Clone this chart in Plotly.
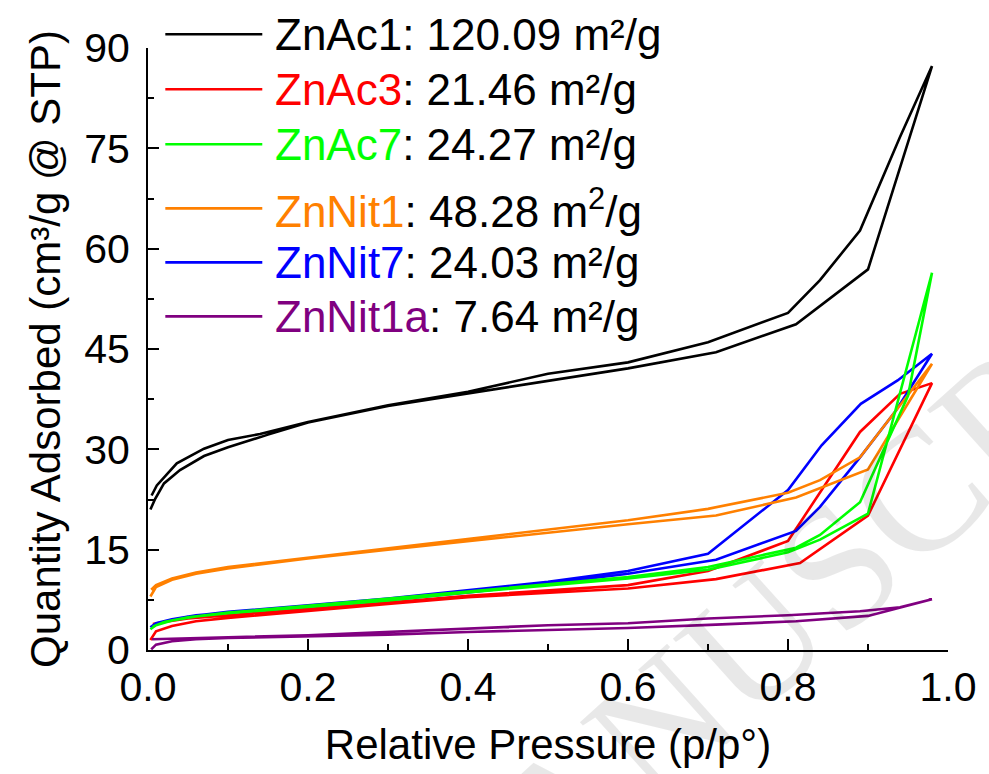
import plotly.graph_objects as go

# ---------------- data ----------------
samples = ["ZnAc1", "ZnAc3", "ZnAc7", "ZnNit1", "ZnNit7", "ZnNit1a"]
surface = ["120.09", "21.46", "24.27", "48.28", "24.03", "7.64"]
colors = ["#000000", "#ff0000", "#00ff00", "#ff8000", "#0000ff", "#800080"]

znac1_p_ads = [0.003, 0.009, 0.02, 0.04, 0.07, 0.10, 0.15, 0.20, 0.30, 0.40, 0.50, 0.60, 0.71, 0.81, 0.90, 0.98]
znac1_q_ads = [21.0, 22.6, 24.9, 26.9, 29.0, 30.3, 32.2, 34.0, 36.5, 38.4, 40.2, 42.1, 44.5, 48.7, 56.9, 87.3]
znac1_p_des = [0.98, 0.94, 0.89, 0.84, 0.80, 0.70, 0.60, 0.50, 0.40, 0.30, 0.20, 0.14, 0.10, 0.07, 0.036, 0.011, 0.0045]
znac1_q_des = [87.3, 76.7, 62.7, 55.3, 50.4, 46.0, 43.0, 41.3, 38.6, 36.6, 34.1, 32.3, 31.4, 30.1, 27.9, 24.6, 23.1]

znac3_p_ads = [0.003, 0.01, 0.03, 0.06, 0.10, 0.20, 0.30, 0.40, 0.50, 0.60, 0.71, 0.815, 0.90, 0.98]
znac3_q_ads = [1.5, 2.8, 3.6, 4.3, 4.8, 5.9, 6.9, 7.9, 8.6, 9.2, 10.6, 13.0, 20.1, 39.9]
znac3_p_des = [0.98, 0.94, 0.89, 0.80, 0.70, 0.60, 0.50, 0.40, 0.30, 0.20, 0.10, 0.05, 0.02, 0.006]
znac3_q_des = [39.9, 38.3, 32.6, 16.3, 11.8, 9.7, 8.9, 8.1, 7.1, 6.1, 5.2, 4.7, 4.2, 3.9]

znac7_p_ads = [0.003, 0.01, 0.03, 0.06, 0.10, 0.15, 0.20, 0.30, 0.40, 0.50, 0.60, 0.70, 0.80, 0.84, 0.90, 0.98]
znac7_q_ads = [3.1, 3.7, 4.4, 5.0, 5.5, 6.0, 6.4, 7.4, 8.6, 9.7, 10.7, 12.0, 14.6, 16.5, 20.4, 56.4]
znac7_p_des = [0.98, 0.95, 0.89, 0.84, 0.81, 0.70, 0.60, 0.50, 0.40, 0.30, 0.20, 0.10, 0.05, 0.02, 0.006]
znac7_q_des = [56.4, 38.0, 22.1, 17.2, 15.3, 12.4, 10.9, 9.8, 8.8, 7.6, 6.6, 5.6, 4.9, 4.2, 3.5]

znnit1_p_ads = [0.003, 0.01, 0.03, 0.06, 0.10, 0.15, 0.20, 0.30, 0.40, 0.50, 0.60, 0.71, 0.81, 0.90, 0.98]
znnit1_q_ads = [8.0, 9.4, 10.5, 11.4, 12.2, 13.0, 13.7, 15.0, 16.3, 17.5, 18.8, 20.1, 22.8, 27.0, 42.8]
znnit1_p_des = [0.98, 0.89, 0.84, 0.80, 0.70, 0.60, 0.50, 0.40, 0.30, 0.20, 0.15, 0.10, 0.06, 0.03, 0.01, 0.004]
znnit1_q_des = [42.8, 28.8, 25.4, 23.5, 21.1, 19.4, 18.0, 16.6, 15.2, 13.9, 13.2, 12.4, 11.6, 10.7, 9.7, 9.0]

znnit7_p_ads = [0.003, 0.01, 0.03, 0.06, 0.10, 0.15, 0.20, 0.30, 0.40, 0.50, 0.60, 0.71, 0.81, 0.84, 0.89, 0.935, 0.98]
znnit7_q_ads = [3.4, 4.0, 4.6, 5.2, 5.6, 6.0, 6.5, 7.5, 8.6, 9.9, 11.4, 13.5, 17.8, 21.4, 28.8, 35.8, 44.3]
znnit7_p_des = [0.98, 0.937, 0.891, 0.842, 0.80, 0.70, 0.60, 0.50, 0.40, 0.30, 0.20, 0.10, 0.05, 0.02, 0.006]
znnit7_q_des = [44.3, 40.3, 36.8, 30.6, 23.9, 14.4, 11.8, 10.2, 8.9, 7.7, 6.7, 5.7, 5.0, 4.3, 3.7]

znnit1a_p_ads = [0.004, 0.01, 0.03, 0.06, 0.10, 0.20, 0.30, 0.40, 0.50, 0.60, 0.71, 0.81, 0.90, 0.98]
znnit1a_q_ads = [0.1, 0.8, 1.3, 1.6, 1.8, 2.0, 2.3, 2.7, 3.0, 3.3, 3.8, 4.3, 5.1, 7.6]
znnit1a_p_des = [0.98, 0.94, 0.89, 0.80, 0.70, 0.60, 0.50, 0.40, 0.30, 0.20, 0.10, 0.05, 0.02, 0.005]
znnit1a_q_des = [7.6, 6.4, 5.8, 5.2, 4.7, 4.0, 3.7, 3.2, 2.7, 2.2, 1.9, 1.7, 1.6, 1.6]

x_ticks = [0.0, 0.2, 0.4, 0.6, 0.8, 1.0]
y_ticks = [0, 15, 30, 45, 60, 75, 90]

series = {
    "ZnAc1": (znac1_p_ads, znac1_q_ads, znac1_p_des, znac1_q_des),
    "ZnAc3": (znac3_p_ads, znac3_q_ads, znac3_p_des, znac3_q_des),
    "ZnAc7": (znac7_p_ads, znac7_q_ads, znac7_p_des, znac7_q_des),
    "ZnNit1": (znnit1_p_ads, znnit1_q_ads, znnit1_p_des, znnit1_q_des),
    "ZnNit7": (znnit7_p_ads, znnit7_q_ads, znnit7_p_des, znnit7_q_des),
    "ZnNit1a": (znnit1a_p_ads, znnit1a_q_ads, znnit1a_p_des, znnit1a_q_des),
}
color_of = dict(zip(samples, colors))
draw_order = ["ZnAc1", "ZnAc3", "ZnNit7", "ZnNit1", "ZnAc7", "ZnNit1a"]

FONT = "Arial, Liberation Sans, sans-serif"

fig = go.Figure()
for name in draw_order:
    pa, qa, pd_, qd = series[name]
    fig.add_trace(go.Scatter(
        x=list(pa) + list(pd_), y=list(qa) + list(qd), mode="lines", name=name,
        line=dict(color=color_of[name], width=2.6), showlegend=False, hoverinfo="skip"))

# ---------------- custom legend (lines + partially coloured labels) ----------------
L, R, T, B = 147.5, 956.0, 47.7, 649.6
W, H = 989, 774
def px_x(px):
    return (px - L) / (R - L)
def px_y(py):
    return (B - py) / (B - T)

row_y = [34, 89, 144, 208, 262, 316]
for i, name in enumerate(samples):
    yy = px_y(row_y[i])
    fig.add_shape(type="line", xref="paper", yref="paper",
                  x0=px_x(165), x1=px_x(263), y0=yy, y1=yy,
                  line=dict(color=colors[i], width=2.6))
    unit = "m<sup>2</sup>/g" if name == "ZnNit1" else "m²/g"
    if name == "ZnAc1":
        label = f"{name}: {surface[i]} {unit}"
    else:
        label = f"<span style='color:{colors[i]}'>{name}</span>: {surface[i]} {unit}"
    fig.add_annotation(xref="paper", yref="paper", x=px_x(274), y=yy,
                       xanchor="left", yanchor="middle", showarrow=False,
                       text=label, font=dict(size=44, color="#000000", family=FONT))

# watermark of the source manuscript page
fig.add_annotation(xref="paper", yref="paper", x=px_x(830), y=px_y(578),
                   xanchor="center", yanchor="middle", showarrow=False,
                   text="MANUSCRIPT", textangle=-42,
                   font=dict(size=175, color="rgba(0,0,0,0.09)",
                             family="Liberation Serif, Times New Roman, serif"))

axis_common = dict(
    showgrid=False, zeroline=False, showline=True, linecolor="#000000", linewidth=2,
    ticks="inside", ticklen=11, tickwidth=2, tickcolor="#000000",
    mirror=False,
    tickfont=dict(size=41, color="#000000", family=FONT),
)

fig.update_xaxes(
    range=[0, 1.0], tickvals=x_ticks, ticktext=[f"{v:.1f}" for v in x_ticks],
    minor=dict(ticks="inside", ticklen=6, tickwidth=2, tickcolor="#000000", dtick=0.1, tick0=0),
    title=dict(text="Relative Pressure (p/p°)", standoff=20,
               font=dict(size=42, color="#000000", family=FONT)),
    ticklabelstandoff=0,
    **axis_common)
fig.update_yaxes(
    range=[0, 90], tickvals=y_ticks, ticktext=[str(v) for v in y_ticks],
    minor=dict(ticks="inside", ticklen=6, tickwidth=2, tickcolor="#000000", dtick=7.5, tick0=0),
    title=dict(text="Quantity Adsorbed (cm³/g @ STP)", standoff=10,
               font=dict(size=42, color="#000000", family=FONT)),
    ticklabelstandoff=8,
    **axis_common)

fig.update_layout(
    width=W, height=H,
    margin=dict(l=L, r=W - R, t=T, b=H - B, pad=0),
    paper_bgcolor="#ffffff", plot_bgcolor="#ffffff",
    showlegend=False,
)

fig.write_html("out.html")
